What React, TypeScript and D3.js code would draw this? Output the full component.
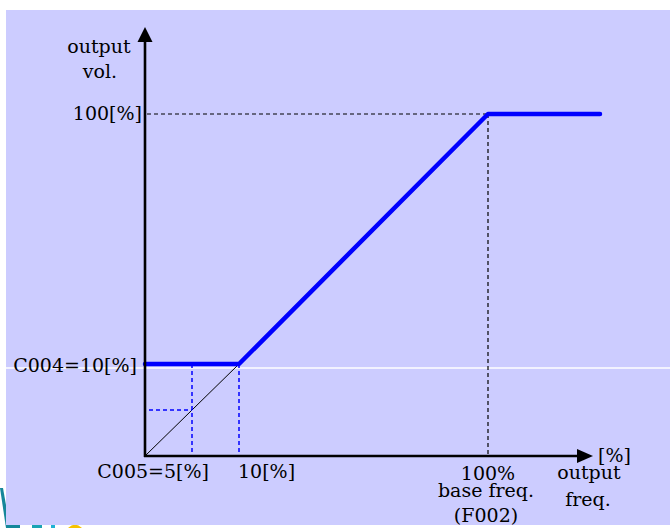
import React from "react";
import * as d3 from "d3";

// V/f pattern: output frequency [%] vs output voltage [%]
const freqPct = [0, 10, 100, 130];
const voltPct = [10, 10, 100, 100];
const boostVolt = 10; // C004
const boostFreq = 5; // C005
const kneeFreq = 10;
const baseFreq = 100; // F002

const xTickLabels = ["C005=5[%]", "10[%]"];
const yTickLabels = ["C004=10[%]", "100[%]"];

const W = 670;
const H = 528;

// schematic (piecewise) scales
const x = d3.scaleLinear().domain([0, 10, 100, 130]).range([145, 239, 488, 600]);
const y = d3.scaleLinear().domain([0, 10, 100]).range([456, 364, 114]);

const FONT = "'DejaVu Serif', 'Liberation Serif', serif";

export default function App() {
  const curve = d3
    .line<number>()
    .x((_, i) => x(freqPct[i]))
    .y((d) => y(d));
  const x0 = x(0);
  const y0 = y(0);
  const yTop = 27;
  const xEnd = 593;

  const txt = (props: any, s: string) => (
    <text fontFamily={FONT} fontSize={19} fill="#000" {...props}>
      {s}
    </text>
  );

  return (
    <svg
      width={W}
      height={H}
      style={{ position: "absolute", left: 0, top: 0, background: "#fff" }}
    >
      {/* logo fragments peeking from behind the panel */}
      <polygon points="0,488 3,488 10,528 6,528" fill="#15879a" />
      <rect x={6} y={523} width={14} height={5} fill="#15879a" />
      <rect x={32} y={523} width={10} height={5} fill="#1aa3b4" />
      <rect x={51} y={523} width={4} height={5} fill="#1fb2d4" />
      <path d="M68,528 Q75,521 82,528 Z" fill="#f7c300" />

      <rect x={6} y={10} width={W - 6} height={515} fill="#ccccff" />
      <line x1={0} x2={W} y1={368} y2={368} stroke="#fff" strokeWidth={1.5} />

      {/* guides to 100% point */}
      <line
        x1={x0 + 2}
        x2={x(baseFreq)}
        y1={y(100)}
        y2={y(100)}
        stroke="#000"
        strokeWidth={1.2}
        strokeDasharray="4,3"
      />
      <line
        x1={x(baseFreq)}
        x2={x(baseFreq)}
        y1={y(100)}
        y2={y0}
        stroke="#000"
        strokeWidth={1.2}
        strokeDasharray="4,3"
      />

      {/* linear reference v = f */}
      <line x1={x(0)} y1={y(0)} x2={x(kneeFreq)} y2={y(kneeFreq)} stroke="#000" strokeWidth={1} />

      {/* blue guides for boost */}
      <line
        x1={x(boostFreq)}
        x2={x(boostFreq)}
        y1={y(boostVolt)}
        y2={y0}
        stroke="#0000ff"
        strokeWidth={1.5}
        strokeDasharray="4,3"
      />
      <line
        x1={x(kneeFreq)}
        x2={x(kneeFreq)}
        y1={y(boostVolt)}
        y2={y0}
        stroke="#0000ff"
        strokeWidth={1.5}
        strokeDasharray="4,3"
      />
      <line
        x1={x0 + 4}
        x2={x(boostFreq)}
        y1={y(boostFreq)}
        y2={y(boostFreq)}
        stroke="#0000ff"
        strokeWidth={1.5}
        strokeDasharray="4,3"
      />

      {/* V/f curve */}
      <path
        d={curve(voltPct) || ""}
        fill="none"
        stroke="#0000ff"
        strokeWidth={4.5}
        strokeLinecap="round"
        strokeLinejoin="round"
      />

      {/* axes */}
      <line x1={x0} x2={x0} y1={y0 + 1} y2={yTop + 10} stroke="#000" strokeWidth={2.6} />
      <polygon points={`${x0},${yTop} ${x0 - 7.5},${yTop + 15} ${x0 + 7.5},${yTop + 15}`} fill="#000" />
      <line x1={x0 - 1} x2={xEnd - 10} y1={y0} y2={y0} stroke="#000" strokeWidth={2.6} />
      <polygon points={`${xEnd},${y0} ${xEnd - 16},${y0 - 7} ${xEnd - 16},${y0 + 7}`} fill="#000" />

      {/* axis titles */}
      {txt({ x: 99, y: 53, textAnchor: "middle" }, "output")}
      {txt({ x: 100, y: 78, textAnchor: "middle" }, "vol.")}
      {txt({ x: 598, y: 462 }, "[%]")}
      {txt({ x: 589, y: 479, textAnchor: "middle" }, "output")}
      {txt({ x: 588, y: 506, textAnchor: "middle" }, "freq.")}

      {/* tick labels */}
      {txt({ x: 142, y: 120, textAnchor: "end" }, yTickLabels[1])}
      {txt({ x: 137, y: 372, textAnchor: "end" }, yTickLabels[0])}
      {txt({ x: 209, y: 478, textAnchor: "end" }, xTickLabels[0])}
      {txt({ x: 238, y: 478 }, xTickLabels[1])}
      {txt({ x: x(baseFreq), y: 480, textAnchor: "middle" }, "100%")}
      {txt({ x: 486, y: 497, textAnchor: "middle" }, "base freq.")}
      {txt({ x: 486, y: 522, textAnchor: "middle" }, "(F002)")}
    </svg>
  );
}
